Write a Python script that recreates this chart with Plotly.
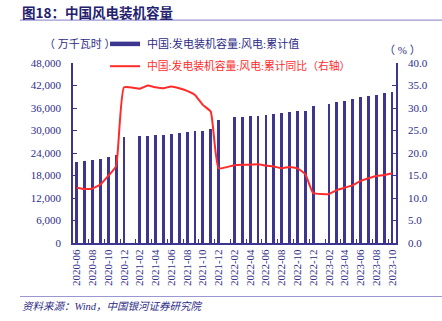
import plotly.graph_objects as go

months = ["2020-06","2020-07","2020-08","2020-09","2020-10","2020-11","2020-12",
          "2021-01","2021-02","2021-03","2021-04","2021-05","2021-06","2021-07","2021-08","2021-09","2021-10","2021-11","2021-12",
          "2022-01","2022-02","2022-03","2022-04","2022-05","2022-06","2022-07","2022-08","2022-09","2022-10","2022-11","2022-12",
          "2023-01","2023-02","2023-03","2023-04","2023-05","2023-06","2023-07","2023-08","2023-09","2023-10"]
capacity = [21700, 21800, 22100, 22400, 22900, 23600, 28150,
            None, 28500, 28650, 28750, 28800, 29200, 29400, 29600, 29800, 30000, 30400, 32850,
            None, 33500, 33650, 33800, 33900, 34200, 34400, 34600, 34900, 35100, 35200, 36550,
            None, 37100, 37600, 37900, 38300, 38900, 39300, 39600, 40100, 40400]
yoy = [12.3, 12.0, 12.1, 13.0, 14.9, 17.1, 34.6,
       None, 34.3, 35.0, 34.6, 34.4, 34.8, 34.4, 33.8, 32.9, 30.7, 29.2, 16.6,
       None, 17.3, 17.4, 17.4, 17.5, 17.2, 17.0, 16.6, 16.9, 16.6, 15.3, 11.1,
       None, 10.9, 11.75, 12.3, 12.8, 13.8, 14.4, 14.9, 15.1, 15.5]
left_ticks = [0, 6000, 12000, 18000, 24000, 30000, 36000, 42000, 48000]
right_ticks = [0, 5, 10, 15, 20, 25, 30, 35, 40]

NAVY = "#3d3691"
TXT = "#2e2c86"
RED = "#ff2b2b"
FONT = "Liberation Serif, Noto Sans CJK SC"
PAD = "\u2002\u2009"

x = list(range(len(months)))
label_idx = x[::2]

fig = go.Figure()
fig.add_trace(go.Bar(x=x, y=capacity, marker_color=NAVY, marker_line_width=0,
                     width=0.36, showlegend=False))
fig.add_trace(go.Scatter(x=x, y=yoy, yaxis="y2", mode="lines", connectgaps=True,
                         line=dict(color=RED, width=2, shape="spline", smoothing=0.4),
                         showlegend=False))

W, H = 442, 321
ml, mr, mt, mb = 73, 46.3, 63.3, 78.3
PW, PH = W - ml - mr, H - mt - mb

fig.update_layout(
    width=W, height=H, margin=dict(l=ml, r=mr, t=mt, b=mb),
    paper_bgcolor="white", plot_bgcolor="white",
    font=dict(family=FONT, size=11, color=TXT),
    bargap=0,
    xaxis=dict(range=[-0.47, 40.5], tickmode="array", tickvals=label_idx,
               ticktext=[months[i] for i in label_idx], tickangle=-90,
               ticks="", showgrid=False, zeroline=False,
               showline=True, linecolor=NAVY, linewidth=2,
               tickfont=dict(family=FONT, size=11, color=TXT),
               minor=dict(tickmode="array", tickvals=[i + 1.5 for i in label_idx[:-1]],
                          ticks="inside", ticklen=4, tickcolor=NAVY, tickwidth=1, showgrid=False)),
    yaxis=dict(range=[0, 48000], tickmode="array", tickvals=left_ticks,
               ticktext=[f"{v:,}{PAD}" for v in left_ticks],
               ticks="inside", ticklen=4, tickcolor=NAVY, tickwidth=1,
               showgrid=False, zeroline=False, showline=True, linecolor=NAVY, linewidth=2,
               tickfont=dict(family=FONT, size=11, color=TXT)),
    yaxis2=dict(range=[0, 40], overlaying="y", side="right", tickmode="array",
                tickvals=right_ticks, ticktext=[f"{PAD}{v:.1f}" for v in right_ticks],
                ticks="inside", ticklen=4, tickcolor=NAVY, tickwidth=1,
                showgrid=False, zeroline=False, showline=True, linecolor=NAVY, linewidth=2,
                tickfont=dict(family=FONT, size=11, color=TXT)),
)

def px(xp):
    return (xp - ml) / PW

def py(yp):
    return (H - mb - yp) / PH

shapes = [
    dict(type="line", xref="paper", yref="paper", x0=px(20), x1=px(442), y0=py(20.5), y1=py(20.5),
         line=dict(color="#9b97d2", width=1.2)),
    dict(type="line", xref="paper", yref="paper", x0=px(20), x1=px(442), y0=py(296), y1=py(296),
         line=dict(color="#9b97d2", width=1.2)),
    dict(type="rect", xref="paper", yref="paper", x0=px(110), x1=px(140), y0=py(46.5), y1=py(42),
         fillcolor=NAVY, line=dict(width=0)),
    dict(type="line", xref="paper", yref="paper", x0=px(110), x1=px(140), y0=py(66.5), y1=py(66.5),
         line=dict(color=RED, width=2)),
]
fig.update_layout(shapes=shapes)

ann = [
    dict(text="<b>图18：中国风电装机容量</b>", x=px(20), y=py(12), xanchor="left", yanchor="middle",
         font=dict(family="Noto Sans CJK SC", size=13.5, color="#23216e")),
    dict(text="（ 万千瓦时 ）", x=px(42), y=py(44), xanchor="left", yanchor="middle",
         font=dict(family=FONT, size=11, color=TXT)),
    dict(text="（ % ）", x=px(382), y=py(50), xanchor="left", yanchor="middle",
         font=dict(family=FONT, size=11, color=TXT)),
    dict(text="中国:发电装机容量:风电:累计值", x=px(145), y=py(44), xanchor="left", yanchor="middle",
         font=dict(family=FONT, size=11, color=TXT)),
    dict(text="中国:发电装机容量:风电:累计同比（右轴）", x=px(145), y=py(66), xanchor="left", yanchor="middle",
         font=dict(family=FONT, size=10.8, color=RED)),
    dict(text="<i>资料来源：Wind，中国银河证券研究院</i>", x=px(20), y=py(306), xanchor="left", yanchor="middle",
         font=dict(family=FONT, size=10.5, color="#2e2c86")),
]
for a in ann:
    a.update(xref="paper", yref="paper", showarrow=False)
fig.update_layout(annotations=ann)

fig.write_html("out.html")
